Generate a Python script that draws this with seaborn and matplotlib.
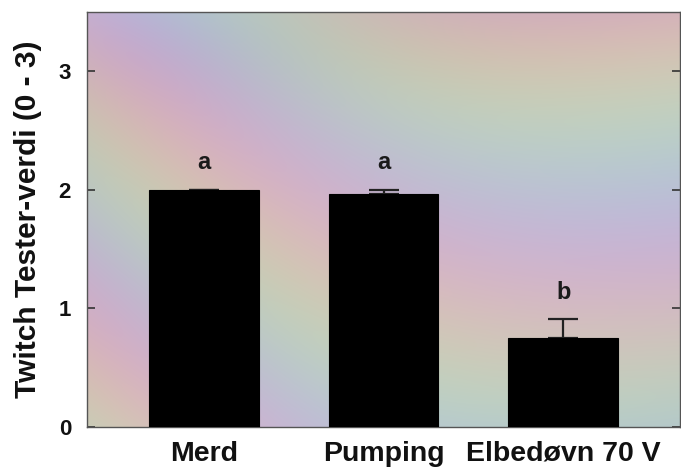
import numpy as np
import pandas as pd
import matplotlib
matplotlib.use("Agg")
import matplotlib.pyplot as plt
import seaborn as sns

categories = ["Merd", "Pumping", "Elbedøvn 70 V"]
means = [2.0, 1.965, 0.748]
errors = [0.0, 0.035, 0.16]
letters = ["a", "a", "b"]
yticks = [0, 1, 2, 3]

sns.set_style("ticks")
plt.rcParams["font.family"] = ["Liberation Sans", "DejaVu Sans"]
plt.rcParams["font.weight"] = "bold"

fig = plt.figure(figsize=(6.81, 4.68), dpi=100)
ax = fig.add_axes([87 / 681, 41 / 468, 593 / 681, 415 / 468])

df = pd.DataFrame({"cat": categories, "val": means})
sns.barplot(data=df, x="cat", y="val", color="black", width=0.61,
            errorbar=None, edgecolor="black", linewidth=0.8, saturation=1,
            ax=ax, zorder=3)

xs = np.arange(len(categories))
ax.errorbar(xs, means, yerr=[np.zeros(len(means)), errors], fmt="none",
            ecolor="#222222", elinewidth=1.6, capsize=10.5, capthick=1.6, zorder=2)

for x, m, e, l in zip(xs, means, errors, letters):
    ax.text(x, m + e + 0.13, l, ha="center", va="bottom", fontsize=17,
            fontweight="bold", color="#1a1a1a", zorder=5)

ax.set_xlim(-0.652, 2.65)
ax.set_ylim(0, 3.5)
ax.set_yticks(yticks)
ax.set_yticklabels([str(t) for t in yticks], fontsize=16, fontweight="bold", color="#111111")
ax.tick_params(axis="y", direction="in", length=6, width=1.2, pad=11.5, right=True, color="#333333")
ax.tick_params(axis="x", length=0, pad=10)
for lab in ax.get_xticklabels():
    lab.set_fontsize(20.5)
    lab.set_fontweight("bold")
    lab.set_color("#111111")
ax.set_xlabel("")
ax.set_ylabel("Twitch Tester-verdi (0 - 3)", fontsize=21.5, fontweight="bold",
              color="#111111", labelpad=12)
for s in ax.spines.values():
    s.set_visible(True)
    s.set_color("#555555")
    s.set_linewidth(1.0)

# pastel scanned background
gx, gy = np.meshgrid(np.linspace(0, 1, 300), np.linspace(0, 1, 220))
ph = 9.0 * (0.55 * gx + gy) + 2.0 * np.sin(3.0 * gx)
ph2 = 6.0 * (gy - 0.4 * gx) + 1.5 * np.cos(4.0 * gy)
r = 0.77 + 0.05 * np.sin(ph) + 0.02 * np.sin(ph2)
g = 0.74 + 0.05 * np.sin(ph + 2.1) + 0.02 * np.sin(ph2 + 1.0)
b = 0.77 + 0.05 * np.sin(ph + 4.2) + 0.02 * np.sin(ph2 + 2.0)
img = np.clip(np.dstack([r, g, b]), 0, 1)
ax.imshow(img, extent=[-0.652, 2.65, 0, 3.5], aspect="auto", origin="lower",
          zorder=0, interpolation="bilinear")
ax.set_xlim(-0.652, 2.65)
ax.set_ylim(0, 3.5)

fig.savefig("out.png", dpi=100, facecolor="white")
